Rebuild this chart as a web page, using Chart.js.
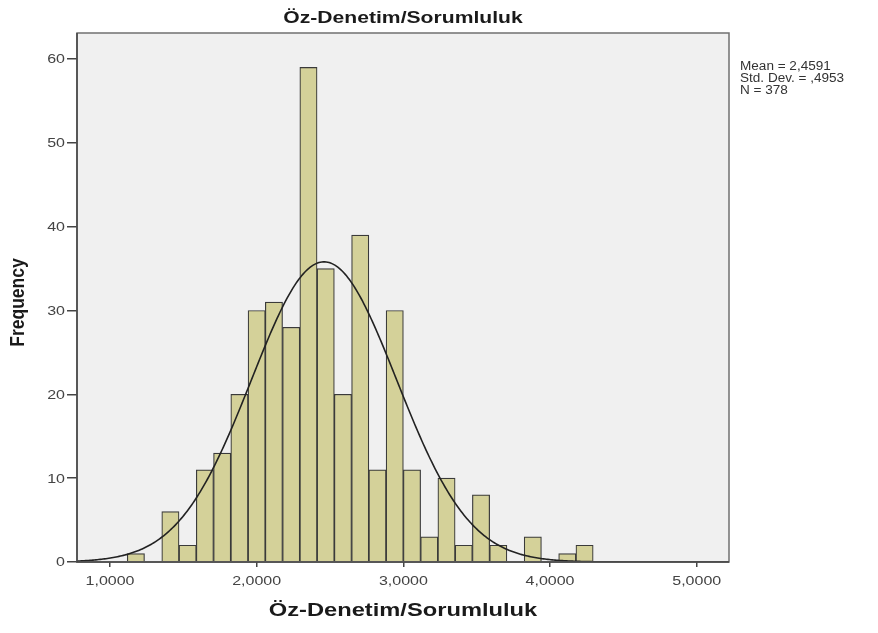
<!DOCTYPE html>
<html>
<head>
<meta charset="utf-8">
<script src="https://cdn.jsdelivr.net/npm/chart.js@4.4.1/dist/chart.umd.min.js"></script>
<style>
  html, body { margin: 0; padding: 0; background: #ffffff; }
  #wrap { width: 878px; height: 633px; position: relative; }
</style>
</head>
<body>
<div id="wrap"><canvas id="c" width="878" height="633"></canvas></div>
<script>
// ---- data ----
const chartTitle = "Öz-Denetim/Sorumluluk";
const xAxisTitle = "Öz-Denetim/Sorumluluk";
const yAxisTitle = "Frequency";
const binCenters = [1.1765, 1.2941, 1.4118, 1.5294, 1.6471, 1.7647, 1.8824, 2.0000, 2.1176, 2.2353,
                    2.3529, 2.4706, 2.5882, 2.7059, 2.8235, 2.9412, 3.0588, 3.1765, 3.2941, 3.4118,
                    3.5294, 3.6471, 3.7647, 3.8824, 4.0000, 4.1176, 4.2353];
const frequencies = [1, 0, 6, 2, 11, 13, 20, 30, 31, 28,
                     59, 35, 20, 39, 11, 30, 11, 3, 10, 2,
                     8, 2, 0, 3, 0, 1, 2];
const binWidth = 0.1176;
const statMean = 2.4591;
const statSD = 0.4953;
const statN = 378;
const statLines = ["Mean = 2,4591", "Std. Dev. = ,4953", "N = 378"];
const xTickValues = [1, 2, 3, 4, 5];
const yTickValues = [0, 10, 20, 30, 40, 50, 60];
const xRange = [0.775, 5.22];
const yRange = [0, 63.1];

// normal curve fitted from the reported statistics
const curvePoints = [];
for (let i = 0; i <= 450; i++) {
  const x = xRange[0] + (xRange[1] - xRange[0]) * i / 450;
  const z = (x - statMean) / statSD;
  const y = statN * binWidth / (statSD * Math.sqrt(2 * Math.PI)) * Math.exp(-0.5 * z * z);
  curvePoints.push({ x: x, y: y });
}

const barData = binCenters.map((c, i) => ({ x: c, y: frequencies[i] }));

const FONT = "'Liberation Sans', Arial, sans-serif";
const STRETCH = 1.28; // the reference text is horizontally widened

function wideText(ctx, text, x, y, align, stretch) {
  ctx.save();
  ctx.translate(x, y);
  ctx.scale(stretch || STRETCH, 1);
  ctx.textAlign = align;
  ctx.fillText(text, 0, 0);
  ctx.restore();
}

const framePlugin = {
  id: 'frame',
  beforeDatasetsDraw(chart) {
    const a = chart.chartArea, ctx = chart.ctx;
    ctx.save();
    ctx.fillStyle = '#f0f0f0';
    ctx.fillRect(a.left, a.top, a.right - a.left, a.bottom - a.top);
    ctx.restore();
  },
  afterDraw(chart) {
    const a = chart.chartArea, ctx = chart.ctx;
    const xs = chart.scales.x, ys = chart.scales.y;
    ctx.save();
    ctx.strokeStyle = '#707070';
    ctx.lineWidth = 1.5;
    ctx.strokeRect(a.left, a.top, a.right - a.left, a.bottom - a.top);
    ctx.strokeStyle = '#444';
    ctx.beginPath();
    ctx.moveTo(a.left, a.top); ctx.lineTo(a.left, a.bottom); ctx.lineTo(a.right, a.bottom);
    ctx.stroke();

    // tick labels (positions from the library's scales)
    ctx.fillStyle = '#444';
    ctx.font = '12.5px ' + FONT;
    ctx.textBaseline = 'middle';
    xs.ticks.forEach(t => {
      wideText(ctx, t.value.toFixed(4).replace('.', ','), xs.getPixelForValue(t.value), 582, 'center');
    });
    ys.ticks.forEach(t => {
      wideText(ctx, String(t.value), a.left - 12, ys.getPixelForValue(t.value) + 1, 'right');
    });

    // titles
    ctx.fillStyle = '#1a1a1a';
    ctx.textBaseline = 'alphabetic';
    ctx.font = 'bold 16.5px ' + FONT;
    wideText(ctx, chartTitle, (a.left + a.right) / 2, 23, 'center');
    ctx.font = 'bold 18.5px ' + FONT;
    wideText(ctx, xAxisTitle, (a.left + a.right) / 2, 616, 'center');
    ctx.save();
    ctx.translate(18, (a.top + a.bottom) / 2 + 5);
    ctx.scale(1.15, 1);
    ctx.rotate(-Math.PI / 2);
    ctx.font = 'bold 17.5px ' + FONT;
    ctx.textAlign = 'center';
    ctx.textBaseline = 'middle';
    ctx.fillText(yAxisTitle, 0, 0);
    ctx.restore();

    // stats
    ctx.font = '12px ' + FONT;
    ctx.textBaseline = 'middle';
    ctx.fillStyle = '#333';
    statLines.forEach((s, i) => wideText(ctx, s, 740, 66.5 + i * 12, 'left', 1.13));
    ctx.restore();
  }
};

new Chart(document.getElementById('c'), {
  data: {
    datasets: [
      {
        type: 'line',
        data: curvePoints,
        borderColor: '#222222',
        borderWidth: 1.6,
        pointRadius: 0,
        tension: 0,
        fill: false,
        order: 0
      },
      {
        type: 'bar',
        data: barData,
        backgroundColor: '#d4d199',
        borderColor: '#3a3a3a',
        borderWidth: 1.2,
        barPercentage: 1,
        categoryPercentage: 1,
        order: 1
      }
    ]
  },
  options: {
    responsive: false,
    animation: false,
    events: [],
    layout: { padding: { left: 0, right: 149, top: 33, bottom: 0 } },
    plugins: { legend: { display: false }, tooltip: { enabled: false }, title: { display: false } },
    scales: {
      x: {
        type: 'linear',
        min: xRange[0],
        max: xRange[1],
        offset: false,
        afterFit(s) { s.height = 71; },
        afterBuildTicks(s) { s.ticks = xTickValues.map(v => ({ value: v })); },
        grid: { offset: false, drawOnChartArea: false, drawTicks: true, tickLength: 5, color: '#444', lineWidth: 1.5 },
        border: { display: false },
        ticks: { display: false }
      },
      y: {
        type: 'linear',
        min: yRange[0],
        max: yRange[1],
        afterFit(s) { s.width = 77; },
        afterBuildTicks(s) { s.ticks = yTickValues.map(v => ({ value: v })); },
        grid: { offset: false, drawOnChartArea: false, drawTicks: true, tickLength: 10, color: '#444', lineWidth: 1.5 },
        border: { display: false },
        ticks: { display: false }
      }
    }
  },
  plugins: [framePlugin]
});
</script>
</body>
</html>
